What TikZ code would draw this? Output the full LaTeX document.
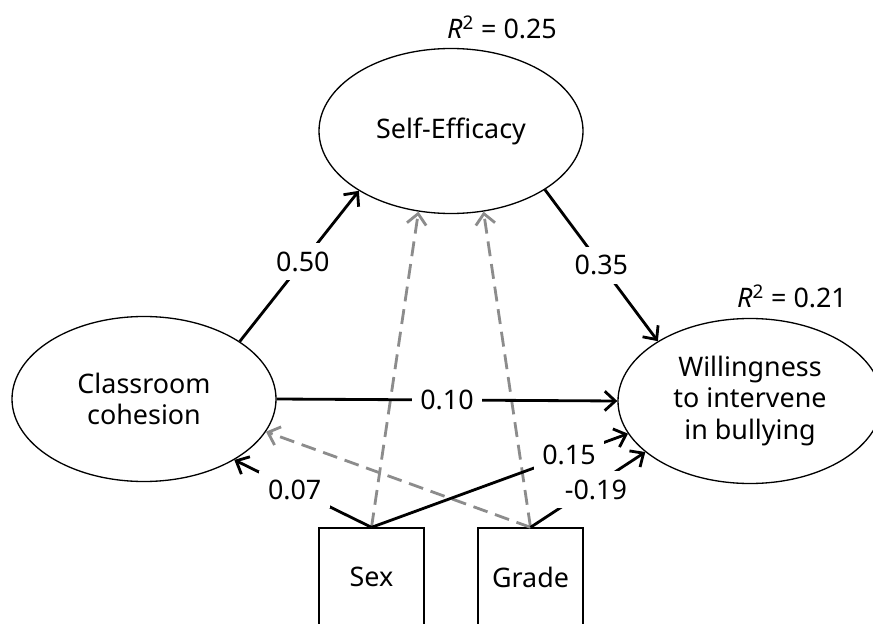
\documentclass[tikz,border=0pt]{standalone}
\usepackage{fontspec}
\setmainfont{Noto Sans}
\usetikzlibrary{shapes.geometric,arrows.meta}
\definecolor{pathgray}{RGB}{140,140,140}

\begin{document}
\begin{tikzpicture}[x=2cm, y=2cm,
    font=\fontsize{15.3pt}{18pt}\selectfont,
    latent/.style={ellipse, draw, line width=0.75pt, minimum width=5.28cm,
        minimum height=3.3cm, inner sep=0pt, align=center},
    observed/.style={rectangle, draw, line width=0.75pt, minimum width=2.1cm,
        minimum height=1.96cm, inner sep=0pt},
    effect/.style={line width=1.6pt, -{Straight Barb[length=6pt,width=11pt]}},
    control/.style={effect, draw=pathgray, dash pattern=on 8.5pt off 4.5pt},
    coef/.style={fill=white, inner sep=5pt}]
    \useasboundingbox (0,0) rectangle (8.73,6.23);
    \clip (0,0) rectangle (8.73,6.23);

    % latent variables
    \node[latent] (se) at (4.51,4.92) {Self-Efficacy};
    \node[latent] (cc) at (1.44,2.24) {Classroom\\cohesion};
    \node[latent] (wi) at (7.50,2.22) {Willingness\\to intervene\\in bullying};

    % covariates
    \node[observed] (sex) at (3.715,0.46) {Sex};
    \node[observed] (grade) at (5.305,0.46) {Grade};

    \node (r2se) at (5.02,5.96) {\textit{R}\textsuperscript{2} = 0.25};
    \node (r2wi) at (7.92,3.27) {\textit{R}\textsuperscript{2} = 0.21};

    % control paths
    \draw[control] (sex.north) -- (se.-112);
    \draw[control] (grade.north) -- (se.-68);
    \draw[control] (grade.north) -- (cc.-15.6);

    % structural paths
    \draw[effect] (cc.31) -- node[coef, pos=0.53] {0.50} (se.-147);
    \draw[effect] (se.-32) -- node[coef] {0.35} (wi.147.6);
    \draw[effect] (cc.0) -- node[coef] {0.10} (wi.180);
    \draw[effect] (sex.north) -- node[coef, pos=0.56] {0.07} (cc.-34.5);
    \draw[effect] (sex.north) -- node[coef, pos=0.77] {0.15} (wi.-165);
    \draw[effect] (grade.north) -- node[coef, pos=0.57, yshift=-3pt] {-0.19} (wi.-154);
\end{tikzpicture}
\end{document}
